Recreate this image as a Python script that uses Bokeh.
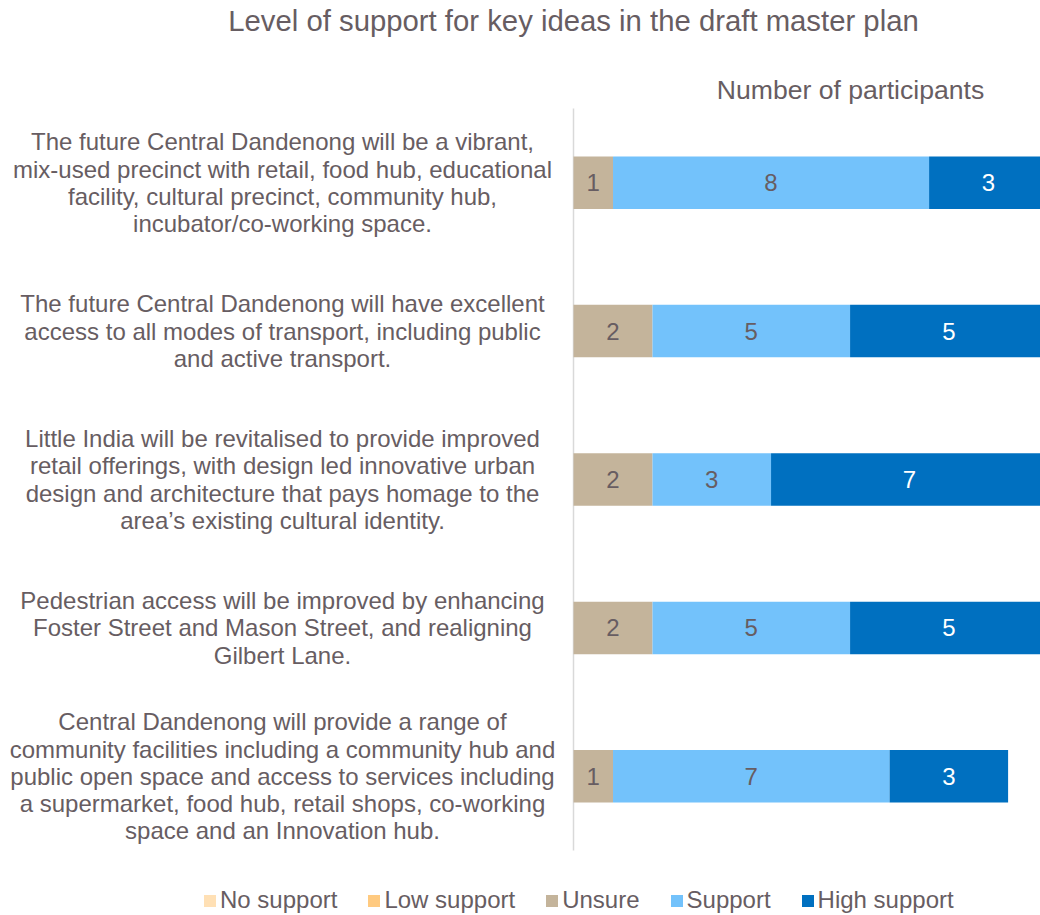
from bokeh.plotting import figure
from bokeh.models import Range1d, Label, Legend, LegendItem, ColumnDataSource
from bokeh.embed import file_html
from bokeh.resources import INLINE
from bokeh.core.properties import value

# ---------------- data ----------------
statements = [
    "The future Central Dandenong will be a vibrant,\nmix-used precinct with retail, food hub, educational\nfacility, cultural precinct, community hub,\nincubator/co-working space.",
    "The future Central Dandenong will have excellent\naccess to all modes of transport, including public\nand active transport.",
    "Little India will be revitalised to provide improved\nretail offerings, with design led innovative urban\ndesign and architecture that pays homage to the\narea\u2019s existing cultural identity.",
    "Pedestrian access will be improved by enhancing\nFoster Street and Mason Street, and realigning\nGilbert Lane.",
    "Central Dandenong will provide a range of\ncommunity facilities including a community hub and\npublic open space and access to services including\na supermarket, food hub, retail shops, co-working\nspace and an Innovation hub.",
]
levels = ["No support", "Low support", "Unsure", "Support", "High support"]
no_support = [0, 0, 0, 0, 0]
low_support = [0, 0, 0, 0, 0]
unsure = [1, 2, 2, 2, 1]
support = [8, 5, 3, 5, 7]
high_support = [3, 5, 7, 5, 3]
level_colors = ["#FFE0B5", "#FFCA80", "#C4B49B", "#73C2FB", "#0070C0"]
label_colors = ["#675D62", "#675D62", "#675D62", "#675D62", "#FFFFFF"]
title_text = "Level of support for key ideas in the draft master plan"
axis_title = "Number of participants"
x_max = 11.82

# ---------------- layout (pixels) ----------------
W, H = 1040, 915
PLOT_L, PLOT_T, PLOT_B = 573, 108, 850   # plotting area inside the canvas
FONT = "Liberation Sans"
TXT = "#675D62"

n = len(statements)
ppu_x = (W - PLOT_L) / x_max
ppu_y = (PLOT_B - PLOT_T) / n
x_range = Range1d(-PLOT_L / ppu_x, x_max)
y_range = Range1d(-(H - PLOT_B) / ppu_y, n + PLOT_T / ppu_y)

ys = [n - i - 0.5 for i in range(n)]
series = [no_support, low_support, unsure, support, high_support]

data = {"y": ys}
for lv, vals in zip(levels, series):
    data[lv] = vals
source = ColumnDataSource(data)

p = figure(width=W, height=H, x_range=x_range, y_range=y_range,
           toolbar_location=None, output_backend="svg",
           min_border_left=0, min_border_right=0, min_border_top=0, min_border_bottom=0)
p.outline_line_color = None
p.xgrid.visible = False
p.ygrid.visible = False
p.xaxis.visible = False
p.yaxis.visible = False

# category axis line
p.segment(x0=[0], y0=[0], x1=[0], y1=[n], line_color="#D9D9D9", line_width=1.5)

renderers = p.hbar_stack(levels, y="y", height=0.354, color=level_colors, source=source, line_color=None)

# data labels
left = [0] * n
for vals, tc in zip(series, label_colors):
    xs, yy, tt = [], [], []
    for i, v in enumerate(vals):
        if v > 0:
            xs.append(left[i] + v / 2)
            yy.append(ys[i])
            tt.append(str(v))
        left[i] += v
    if xs:
        p.text(x=xs, y=yy, text=tt, text_align="center", text_baseline="middle",
               text_font=value(FONT), text_font_size="24px", text_color=tc)

# category labels
for s, y in zip(statements, ys):
    p.add_layout(Label(x=282, y=y, x_units="screen", y_units="data", text=s,
                       text_align="center", text_baseline="middle", text_font=FONT,
                       text_font_size="24px", text_color=TXT, text_line_height=1.01))

# title & axis title
p.add_layout(Label(x=573, y=H - 20, x_units="screen", y_units="screen", text=title_text,
                   text_align="center", text_baseline="middle", text_font=FONT,
                   text_font_size="29.3px", text_color=TXT))
p.add_layout(Label(x=850, y=H - 89, x_units="screen", y_units="screen", text=axis_title,
                   text_align="center", text_baseline="middle", text_font=FONT,
                   text_font_size="26.6px", text_color=TXT))

legend = Legend(items=[LegendItem(label=lv, renderers=[r]) for lv, r in zip(levels, renderers)],
                orientation="horizontal", location=(202, 1), padding=0, margin=0,
                spacing=29, label_standoff=3, glyph_width=15, glyph_height=15,
                label_text_font=FONT, label_text_font_size="24px", label_text_color=TXT,
                background_fill_alpha=0, border_line_alpha=0)
p.add_layout(legend)

open("out.html", "w").write(file_html(p, INLINE))
